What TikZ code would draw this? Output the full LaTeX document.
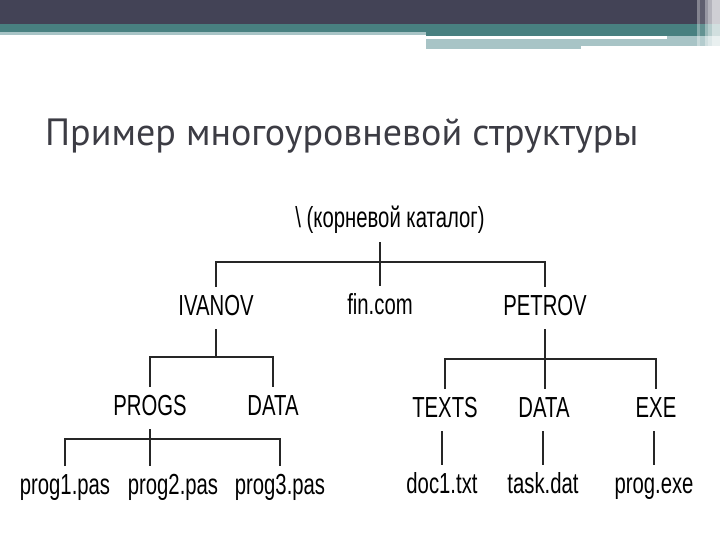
\documentclass[tikz,border=0pt]{standalone}
\usepackage{fontspec}
\setmainfont{Liberation Sans}
\newfontfamily\titlefont{PT Sans}
\newfontfamily\treefont[FakeStretch=0.7]{Liberation Sans}
\definecolor{headdark}{RGB}{67, 67, 86}
\definecolor{headteal}{RGB}{72, 128, 128}
\definecolor{headlight}{RGB}{168, 196, 198}
\definecolor{titlegray}{RGB}{60, 60, 68}
\usetikzlibrary{calc}

\begin{document}
\begin{tikzpicture}[x=1pt, y=-1pt,
  entry/.style={font=\treefont\fontsize{29}{32}\selectfont, text=black, inner sep=0pt, outer xsep=0pt, outer ysep=8pt, text height=20pt, text depth=6pt, anchor=base},
  branch/.style={line width=1.4pt, black!85}]
  \useasboundingbox (0,0) rectangle (720,540);

  % ===== Header bar =====
  \fill[headdark] (0,0) rectangle (720,24);
  \fill[headteal] (0,24) rectangle (426,32);
  \fill[headlight] (0,32) rectangle (426,35);
  \fill[headteal] (426,24) rectangle (720,36);
  \fill[headlight] (426,36) rectangle (720,46);
  \fill[white] (426,36) rectangle (667,39);
  \fill[headlight] (426,46) rectangle (581,49);
  \fill[white, opacity=0.35] (697,0) rectangle (700,47);
  \fill[white, opacity=0.15] (700,0) rectangle (705,47);
  \fill[white, opacity=0.45] (705,0) rectangle (708,47);
  \fill[white, opacity=0.6] (708,0) rectangle (712,47);
  \fill[white, opacity=0.75] (712,0) rectangle (720,47);

  % Title
  \node[font=\titlefont\fontsize{38}{44}\selectfont, text=titlegray, anchor=base west, inner sep=0pt] (title) at (45,146) {Пример многоуровневой структуры};

  % ===== Root and first level =====
  \node[entry] (root) at (390,228) {\textbackslash\ (корневой каталог)};
  \node[entry] (ivanov) at (216,315) {IVANOV};
  \node[entry] (fin) at (380,314) {fin.com};
  \node[entry] (petrov) at (545,315) {PETROV};

  % ===== IVANOV subtree =====
  \node[entry] (progs) at (150,415) {PROGS};
  \node[entry] (data1) at (273,415) {DATA};
  \node[entry] (prog1) at (65,494) {prog1.pas};
  \node[entry] (prog2) at (173,494) {prog2.pas};
  \node[entry] (prog3) at (280,494) {prog3.pas};

  % ===== PETROV subtree =====
  \node[entry] (texts) at (445,417) {TEXTS};
  \node[entry] (data2) at (544,417) {DATA};
  \node[entry] (exe) at (656,417) {EXE};
  \node[entry] (doc1) at (442,493) {doc1.txt};
  \node[entry] (task) at (543,493) {task.dat};
  \node[entry] (progexe) at (654,493) {prog.exe};

  % Junctions
  \coordinate (j0) at (380,262);
  \coordinate (j1) at (216,357);
  \coordinate (j2) at (544,359);
  \coordinate (j3) at (150,439);

  % Branches
  \draw[branch] (root.south -| fin.north) -- (fin.north);
  \draw[branch] (ivanov.north) |- (j0) -| (petrov.north);

  \draw[branch] (ivanov.south) -- (j1);
  \draw[branch] (progs.north) |- (j1) -| (data1.north);
  \draw[branch] (progs.south) -- (progs.south |- prog2.north);
  \draw[branch] (prog1.north) |- (j3) -| (prog3.north);

  \draw[branch] (petrov.south) -- (petrov.south |- data2.north);
  \draw[branch] (texts.north) |- (j2) -| (exe.north);
  \draw[branch] (doc1.north |- texts.south) -- (doc1.north);
  \draw[branch] (task.north |- data2.south) -- (task.north);
  \draw[branch] (progexe.north |- exe.south) -- (progexe.north);
\end{tikzpicture}
\end{document}
